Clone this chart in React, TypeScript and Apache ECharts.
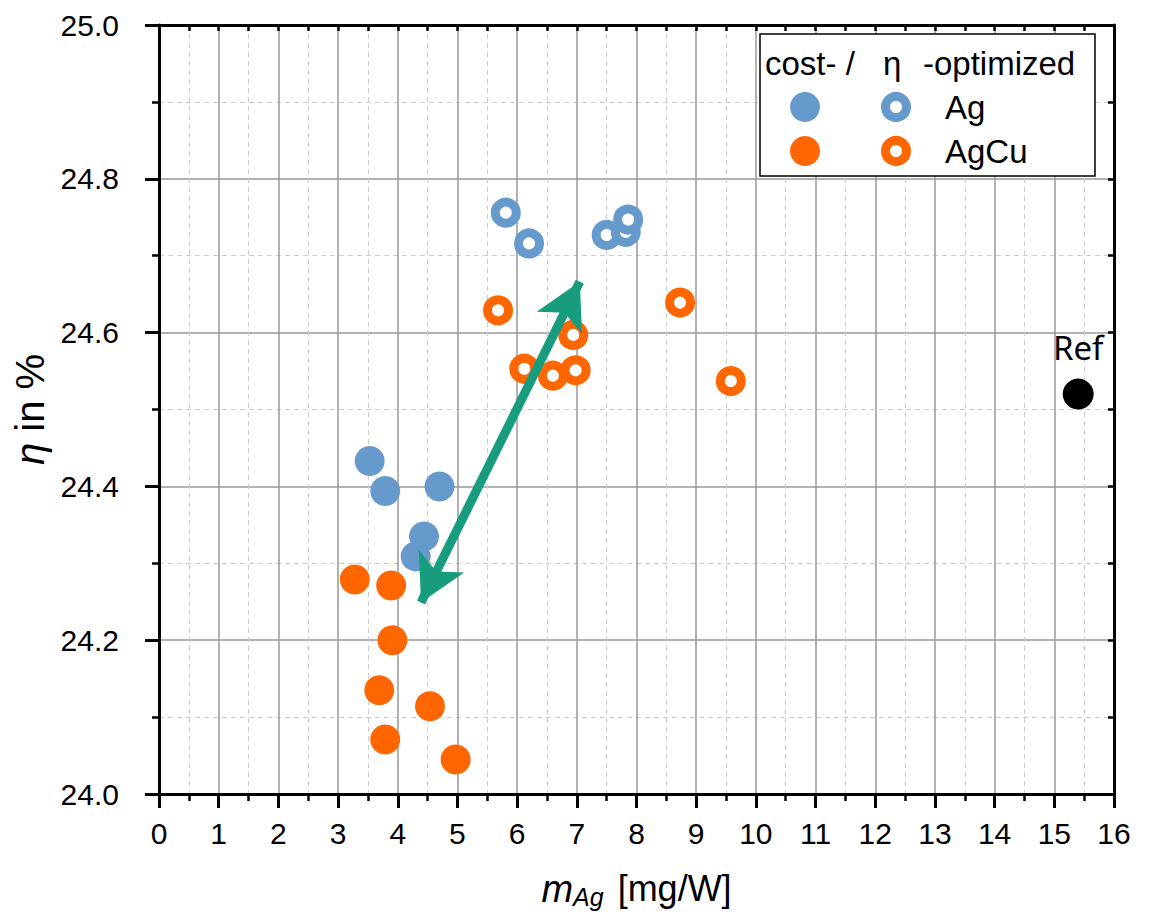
import React, { useEffect, useRef } from "react";
import * as echarts from "echarts";

const BLUE = "#6699CC";
const ORANGE = "#FF6600";
const GREEN = "#179C7D";

// [m_Ag (mg/W), eta (%)]
const agCost: number[][] = [
  [3.53, 24.433],
  [3.79, 24.394],
  [4.70, 24.400],
  [4.44, 24.335],
  [4.30, 24.309],
];
const agEta: number[][] = [
  [5.81, 24.756],
  [6.20, 24.716],
  [7.50, 24.727],
  [7.82, 24.731],
  [7.86, 24.747],
];
const agcuCost: number[][] = [
  [3.28, 24.279],
  [3.89, 24.271],
  [3.91, 24.200],
  [3.69, 24.135],
  [4.54, 24.114],
  [3.79, 24.071],
  [4.97, 24.045],
];
const agcuEta: number[][] = [
  [5.68, 24.629],
  [6.94, 24.597],
  [6.12, 24.553],
  [6.60, 24.544],
  [6.98, 24.551],
  [8.73, 24.639],
  [9.58, 24.537],
];
const refPoint: number[][] = [[15.40, 24.520]];
const arrowFrom = [4.39, 24.249];
const arrowTo = [7.05, 24.666];

const X_MIN = 0, X_MAX = 16, X_STEP = 1;
const Y_MIN = 24.0, Y_MAX = 25.0, Y_STEP = 0.2;

export default function App() {
  const ref = useRef<HTMLDivElement>(null);
  useEffect(() => {
    if (!ref.current) return;
    const chart = echarts.init(ref.current, null, { renderer: "svg" });
    const font = "Liberation Sans";
    const axisCommon = {
      axisLine: { show: true, onZero: false, lineStyle: { color: "#000", width: 3 } },
    };
    const openStyle = (c: string) => ({ color: "#fff", borderColor: c, borderWidth: 9, opacity: 1 });
    const legendFont = `33px "${font}"`;
    chart.setOption({
      animation: false,
      backgroundColor: "#fff",
      grid: { left: 151, top: 17, width: 955, height: 769, containLabel: false, outerBoundsMode: "none" },
      xAxis: [
        {
          type: "value", min: X_MIN, max: X_MAX, interval: X_STEP, position: "bottom",
          ...axisCommon,
          axisTick: { show: true, inside: false, length: 14, lineStyle: { color: "#000", width: 3 } },
          minorTick: { show: true, splitNumber: 2, length: 7, lineStyle: { color: "#000", width: 2.5 } },
          splitLine: { show: true, lineStyle: { color: "#999", width: 1.5 } },
          minorSplitLine: { show: true, lineStyle: { color: "#ccc", width: 1, type: [5, 4] } },
          axisLabel: { fontSize: 30, fontFamily: font, color: "#000", margin: 24 },
          name: "{i|m}{s|Ag} [mg/W]",
          nameLocation: "middle",
          nameGap: 74,
          nameTextStyle: {
            fontSize: 36, fontFamily: font, color: "#000",
            rich: {
              i: { fontSize: 38, fontStyle: "italic", fontFamily: font, color: "#000" },
              s: { fontSize: 25, fontStyle: "italic", fontFamily: font, color: "#000", padding: [16, 4, 0, 0] },
            },
          },
        },
        {
          type: "value", min: X_MIN, max: X_MAX, interval: 0.5, position: "top",
          ...axisCommon,
          axisTick: { show: true, inside: true, length: 6, lineStyle: { color: "#000", width: 2.5 } },
          axisLabel: { show: false },
          splitLine: { show: false },
        },
      ],
      yAxis: [
        {
          type: "value", min: Y_MIN, max: Y_MAX, interval: Y_STEP, position: "left",
          ...axisCommon,
          axisTick: { show: true, inside: false, length: 14, lineStyle: { color: "#000", width: 3 } },
          minorTick: { show: true, splitNumber: 2, length: 7, lineStyle: { color: "#000", width: 2.5 } },
          splitLine: { show: true, lineStyle: { color: "#999", width: 1.5 } },
          minorSplitLine: { show: true, lineStyle: { color: "#ccc", width: 1, type: [5, 4] } },
          axisLabel: {
            fontSize: 30, fontFamily: font, color: "#000", margin: 40,
            formatter: (v: number) => v.toFixed(1),
          },
          name: "{i|η} in %",
          nameLocation: "middle",
          nameGap: 98,
          nameRotate: 90,
          nameTextStyle: {
            fontSize: 40, fontFamily: font, color: "#000",
            rich: { i: { fontSize: 40, fontStyle: "italic", fontFamily: font, color: "#000" } },
          },
        },
        {
          type: "value", min: Y_MIN, max: Y_MAX, interval: 0.1, position: "right",
          ...axisCommon,
          axisTick: { show: true, inside: true, length: 6, lineStyle: { color: "#000", width: 2.5 } },
          axisLabel: { show: false },
          splitLine: { show: false },
        },
      ],
      series: [
        {
          name: "Ag cost-optimized", type: "scatter", data: agCost, symbolSize: 30,
          itemStyle: { color: BLUE, opacity: 1 }, z: 3,
        },
        {
          name: "Ag η-optimized", type: "scatter", data: agEta, symbolSize: 21,
          itemStyle: openStyle(BLUE), z: 3,
        },
        {
          name: "AgCu cost-optimized", type: "scatter", data: agcuCost, symbolSize: 30,
          itemStyle: { color: ORANGE, opacity: 1 }, z: 3,
        },
        {
          name: "AgCu η-optimized", type: "scatter", data: agcuEta, symbolSize: 21,
          itemStyle: openStyle(ORANGE), z: 3,
        },
        {
          name: "Ref", type: "scatter", data: refPoint, symbolSize: 31,
          itemStyle: { color: "#000", opacity: 1 }, z: 5,
          label: {
            show: true, formatter: "Ref", position: "top", distance: 15,
            fontSize: 33, fontFamily: "Noto Sans", color: "#000",
          },
          markLine: {
            silent: true,
            symbol: ["arrow", "arrow"],
            symbolSize: [38, 46],
            label: { show: false },
            lineStyle: { color: GREEN, width: 9, type: "solid", opacity: 1 },
            emphasis: { disabled: true },
            data: [[{ coord: arrowFrom }, { coord: arrowTo }]],
          },
        },
      ],
      graphic: [
        { type: "rect", z: 100, shape: { x: 752, y: 26, width: 335, height: 142 }, style: { fill: "#fff", stroke: "#000", lineWidth: 1.5 } },
        { type: "text", z: 101, x: 757, y: 55, style: { text: "cost- /", font: legendFont, fill: "#000", verticalAlign: "middle", align: "left" } },
        { type: "text", z: 101, x: 875, y: 55, style: { text: "η", font: legendFont, fill: "#000", verticalAlign: "middle", align: "left" } },
        { type: "text", z: 101, x: 915, y: 55, style: { text: "-optimized", font: legendFont, fill: "#000", verticalAlign: "middle", align: "left" } },
        { type: "circle", z: 101, shape: { cx: 797, cy: 99, r: 15 }, style: { fill: BLUE } },
        { type: "circle", z: 101, shape: { cx: 888, cy: 99, r: 10.5 }, style: { fill: "#fff", stroke: BLUE, lineWidth: 9 } },
        { type: "text", z: 101, x: 937, y: 99, style: { text: "Ag", font: legendFont, fill: "#000", verticalAlign: "middle", align: "left" } },
        { type: "circle", z: 101, shape: { cx: 797, cy: 143, r: 15 }, style: { fill: ORANGE } },
        { type: "circle", z: 101, shape: { cx: 888, cy: 143, r: 10.5 }, style: { fill: "#fff", stroke: ORANGE, lineWidth: 9 } },
        { type: "text", z: 101, x: 937, y: 143, style: { text: "AgCu", font: legendFont, fill: "#000", verticalAlign: "middle", align: "left" } },
      ],
    });
    return () => chart.dispose();
  }, []);
  return <div ref={ref} style={{ width: 1142, height: 912 }} />;
}
